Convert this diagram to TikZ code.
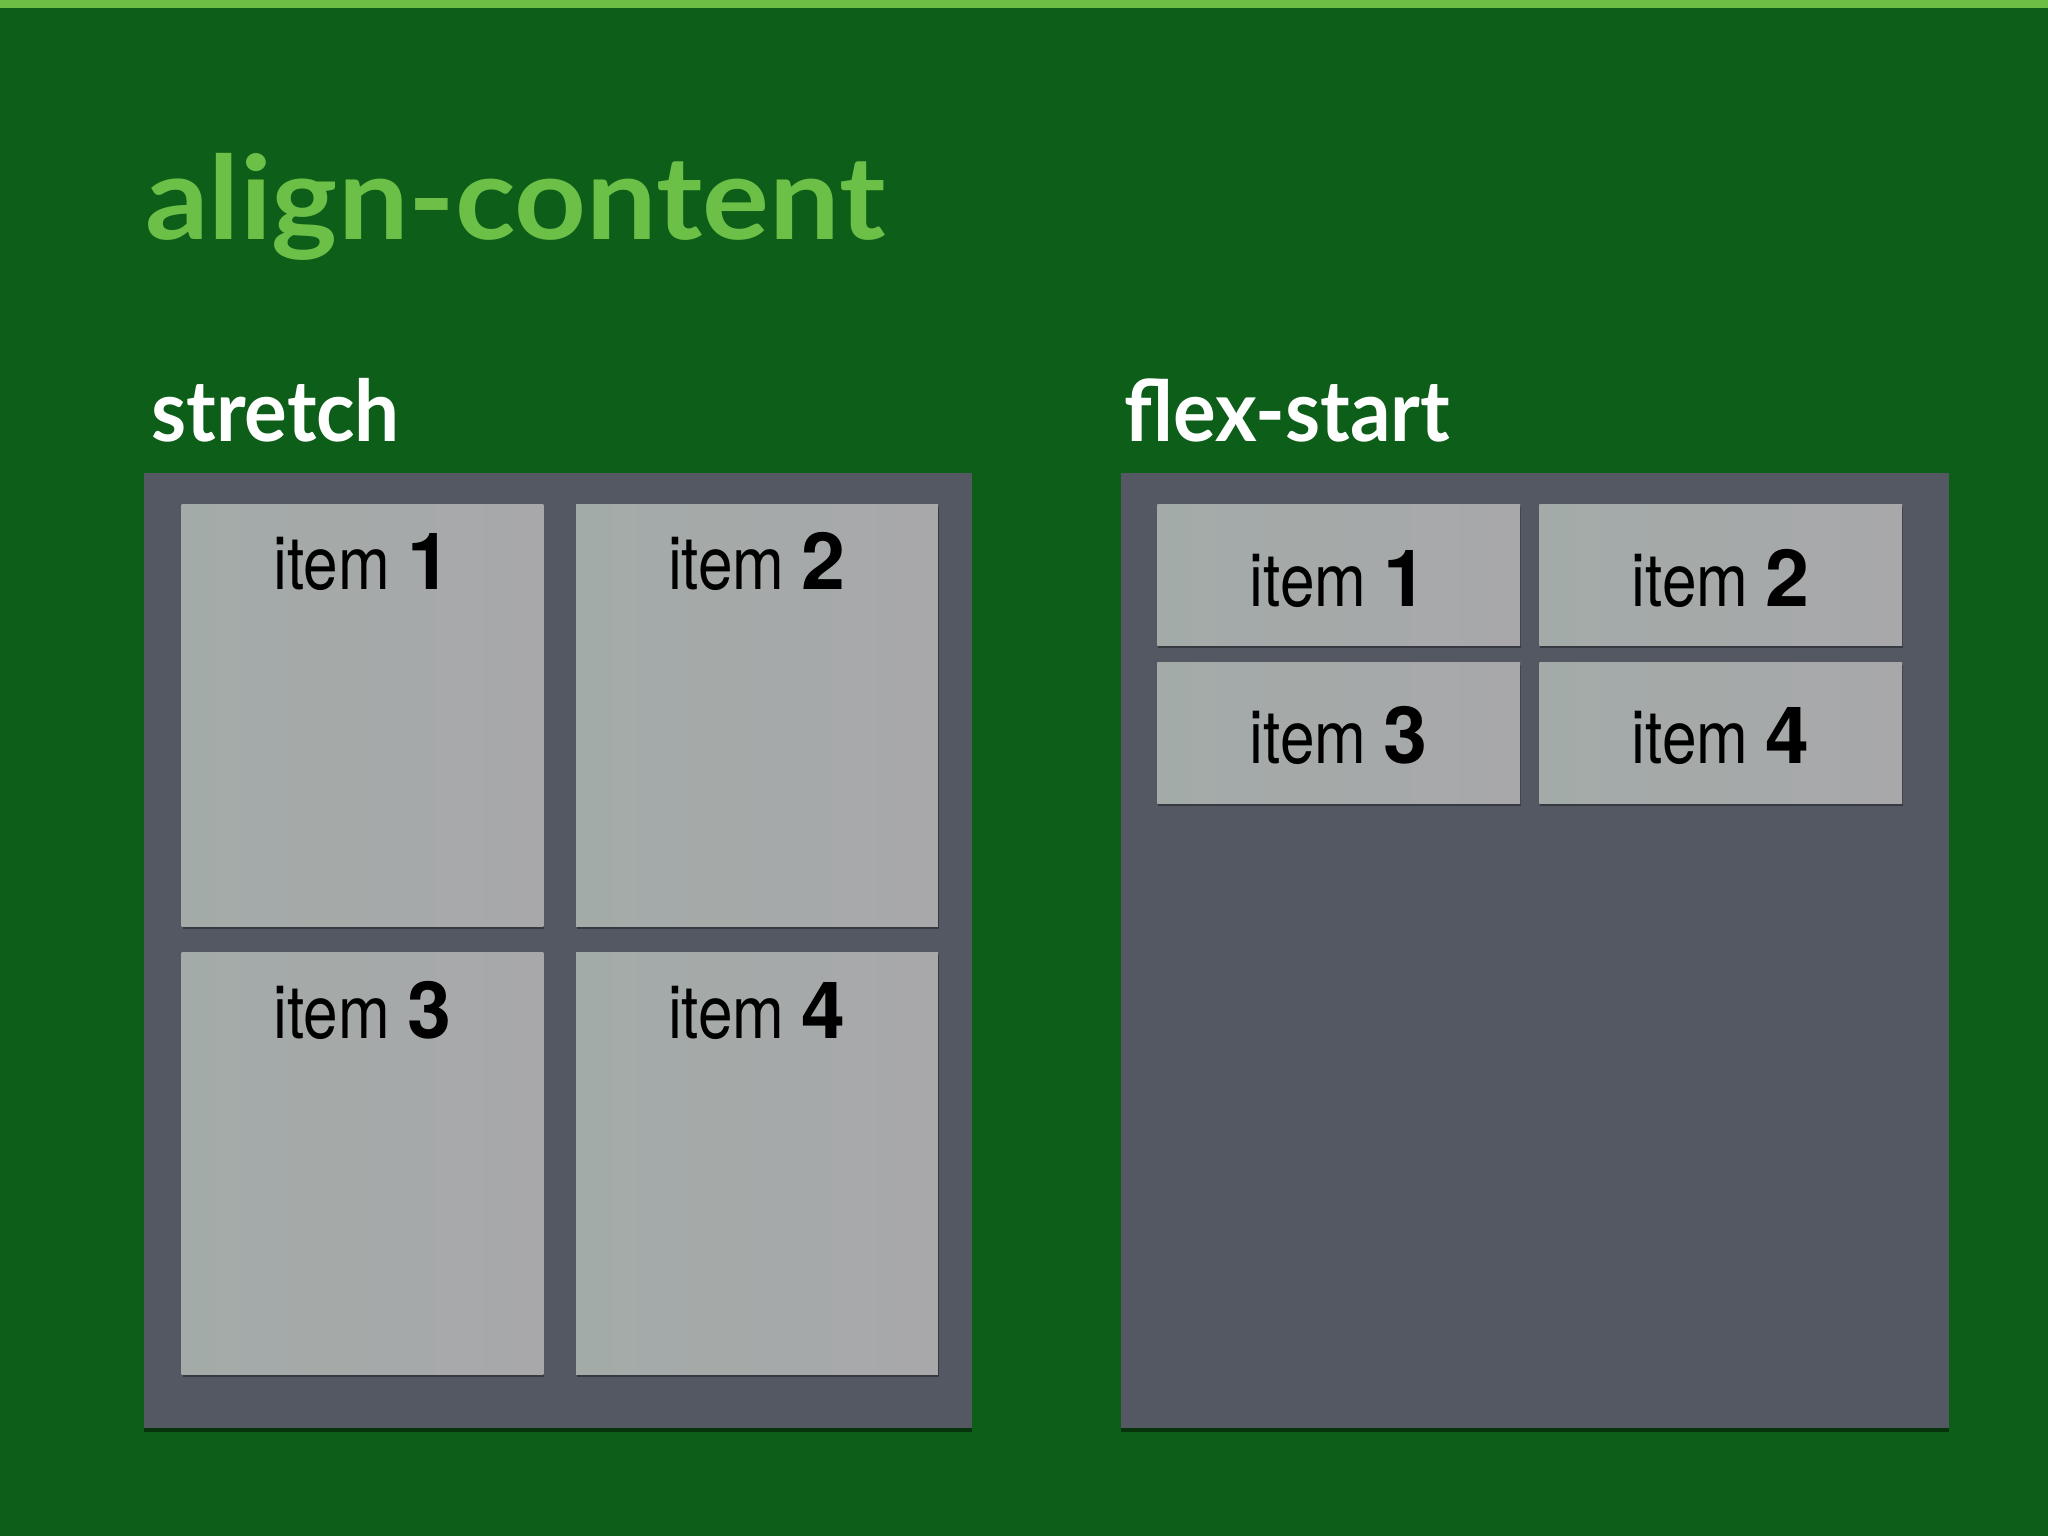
\documentclass[tikz,border=0pt]{standalone}
\usepackage{fontspec}
\setmainfont{Lato}
\newfontfamily\titlefont[FakeStretch=1.08]{Lato}
\newfontfamily\headfont[FakeStretch=0.94]{Lato}
\newfontfamily\itemlight[FakeStretch=0.84]{TeX Gyre Heros}
\newfontfamily\itembold{TeX Gyre Heros}
\usetikzlibrary{shadows}
\definecolor{bggreen}{RGB}{13,94,24}
\definecolor{topbar}{RGB}{108,190,68}
\definecolor{titlegreen}{RGB}{108,192,72}
\definecolor{boxgray}{RGB}{83,88,98}
\definecolor{itemL}{RGB}{163,171,169}
\definecolor{itemR}{RGB}{168,168,170}
\newcommand{\itemtxt}[1]{{\itemlight\fontsize{74}{74}\selectfont item\ }{\itembold\bfseries\fontsize{79}{79}\selectfont #1}}
\begin{document}
\begin{tikzpicture}[x=1pt,y=-1pt,
  container/.style={draw=none, fill=boxgray, inner sep=0, rectangle,
    drop shadow={shadow xshift=0pt, shadow yshift=-4pt, opacity=0.45, fill=black}},
  itembox/.style={draw=none, left color=itemL, right color=itemR, inner sep=0, rectangle,
    drop shadow={shadow xshift=1pt, shadow yshift=-2.5pt, opacity=0.35, fill=black}},
  itemlabel/.style={anchor=base, inner sep=0, text=black},
  heading/.style={anchor=base west, inner sep=0, text=white,
    font=\headfont\bfseries\fontsize{85}{85}\selectfont}]
\fill[bggreen] (0,0) rectangle (2048,1536);
\fill[topbar] (0,0) rectangle (2048,8);
\useasboundingbox (0,0) rectangle (2048,1536);

\node[anchor=base west, inner sep=0, text=titlegreen,
  font=\titlefont\bfseries\fontsize{116}{116}\selectfont] (title) at (145,239) {align-content};

\node[heading] (hstretch) at (151,441) {stretch};
\node[heading] (hflex) at (1124,441) {flex-start};

% containers
\node[container, minimum width=828pt, minimum height=954.8pt] (cleft) at (557.7,950.2) {};
\node[container, minimum width=828pt, minimum height=954.8pt] (cright) at (1534.6,950.2) {};

% stretch items
\node[itembox, minimum width=361.8pt, minimum height=421.8pt] (s1) at (362.4,715.1) {};
\node[itembox, minimum width=361.8pt, minimum height=421.8pt] (s2) at (756.9,715.1) {};
\node[itembox, minimum width=361.8pt, minimum height=421.8pt] (s3) at (362.4,1163.1) {};
\node[itembox, minimum width=361.8pt, minimum height=421.8pt] (s4) at (756.9,1163.1) {};
\node[itemlabel] (ls1) at (362.4,589.5) {\itemtxt{1}};
\node[itemlabel] (ls2) at (756.9,589.5) {\itemtxt{2}};
\node[itemlabel] (ls3) at (362.4,1038) {\itemtxt{3}};
\node[itemlabel] (ls4) at (756.9,1038) {\itemtxt{4}};

% flex-start items
\node[itembox, minimum width=362.8pt, minimum height=141.2pt] (f1) at (1338.7,574.8) {};
\node[itembox, minimum width=362.8pt, minimum height=141.2pt] (f2) at (1720.8,574.8) {};
\node[itembox, minimum width=362.8pt, minimum height=141.2pt] (f3) at (1338.7,733) {};
\node[itembox, minimum width=362.8pt, minimum height=141.2pt] (f4) at (1720.8,733) {};
\node[itemlabel] (lf1) at (1338.7,606) {\itemtxt{1}};
\node[itemlabel] (lf2) at (1720.8,606) {\itemtxt{2}};
\node[itemlabel] (lf3) at (1338.7,763.5) {\itemtxt{3}};
\node[itemlabel] (lf4) at (1720.8,763.5) {\itemtxt{4}};
\end{tikzpicture}
\end{document}
